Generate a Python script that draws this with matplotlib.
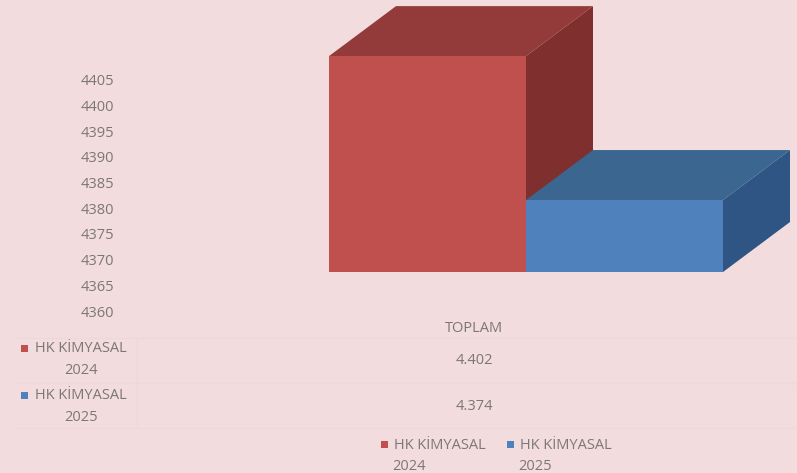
import matplotlib
matplotlib.use("Agg")
import matplotlib.pyplot as plt
from matplotlib.patches import Polygon, Rectangle

# values
series_names = ["HK KİMYASAL\n2024", "HK KİMYASAL\n2025"]
values = [4402, 4374]
category = "TOPLAM"
y_ticks = [4360, 4365, 4370, 4375, 4380, 4385, 4390, 4395, 4400, 4405]

W, H = 797, 473
BG = "#f2dcdd"
TEXT = "#7d7678"
LINE = "#eed8d9"
front = ["#c0504d", "#4f81bd"]
top = ["#933b3a", "#3b6690"]
side = ["#7f302e", "#2f5585"]

plt.rcParams["font.family"] = ["Open Sans", "DejaVu Sans"]
plt.rcParams["font.size"] = 10.5

fig = plt.figure(figsize=(W / 100, H / 100), dpi=100, facecolor=BG)


def px_text(x, y, s, **kw):
    kw.setdefault("ha", "center")
    kw.setdefault("va", "center")
    kw.setdefault("color", TEXT)
    # va center sits a little high for this font
    fig.text(x / W, 1 - (y + 1.5) / H, s, **kw)


def px_box(left, bottom, width, height):
    return [left / W, 1 - bottom / H, width / W, height / H]


def square(x, y, col, size=7):
    fig.add_artist(Rectangle(((x - size / 2) / W, 1 - (y + size / 2) / H),
                             size / W, size / H, color=col, lw=0,
                             transform=fig.transFigure))


# front plane of the 3d bars
ax = fig.add_axes(px_box(329, 272, 394, 257))
ax.patch.set_alpha(0)
ax.set_xlim(-0.5, 1.5)
ax.set_ylim(4360, 4410)
ax.axis("off")

depth_x = 67 / 197
depth_y = 50 / 5.14
base = 4360

# red first so the blue bar covers its side
for i, v in enumerate(values):
    l, r = i - 0.5, i + 0.5
    ax.add_patch(Polygon([(r, v), (r + depth_x, v + depth_y), (r + depth_x, base + depth_y), (r, base)],
                         color=side[i], lw=0, clip_on=False, zorder=2 + i))
    ax.add_patch(Polygon([(l, v), (l + depth_x, v + depth_y), (r + depth_x, v + depth_y), (r, v)],
                         color=top[i], lw=0, clip_on=False, zorder=2 + i))
    ax.bar(i, v - base, bottom=base, width=1, color=front[i], zorder=2 + i, clip_on=False)

# tick labels sit lower than the front plane
tick_ax = fig.add_axes(px_box(118, 311, 10, 257))
tick_ax.patch.set_alpha(0)
tick_ax.set_ylim(4360, 4410)
tick_ax.set_yticks(y_ticks)
tick_ax.set_xticks([])
tick_ax.tick_params(axis="y", length=0, pad=3, labelcolor=TEXT)
for s in tick_ax.spines.values():
    s.set_visible(False)

# data table
for y in [338, 383, 428]:
    fig.add_artist(plt.Line2D([15 / W, 797 / W], [1 - y / H, 1 - y / H], color=LINE, lw=0.8))
fig.add_artist(plt.Line2D([137 / W, 137 / W], [1 - 338 / H, 1 - 428 / H], color=LINE, lw=0.8))

px_text(474, 327, category)
for i, y in enumerate([359, 405]):
    px_text(474, y, f"{values[i]:,}".replace(",", "."))
for i, y in enumerate([348, 395]):
    name, year = series_names[i].split("\n")
    square(24, y, front[i])
    px_text(81, y - 1, name)
    px_text(81, y + 21, year)

# legend under the table
for i, x in enumerate([384, 510]):
    name, year = series_names[i].split("\n")
    square(x, 444, front[i])
    px_text(x + 10, 444, name, ha="left")
    px_text(x + 25, 465, year)

fig.savefig("out.png", dpi=100, facecolor=BG)
